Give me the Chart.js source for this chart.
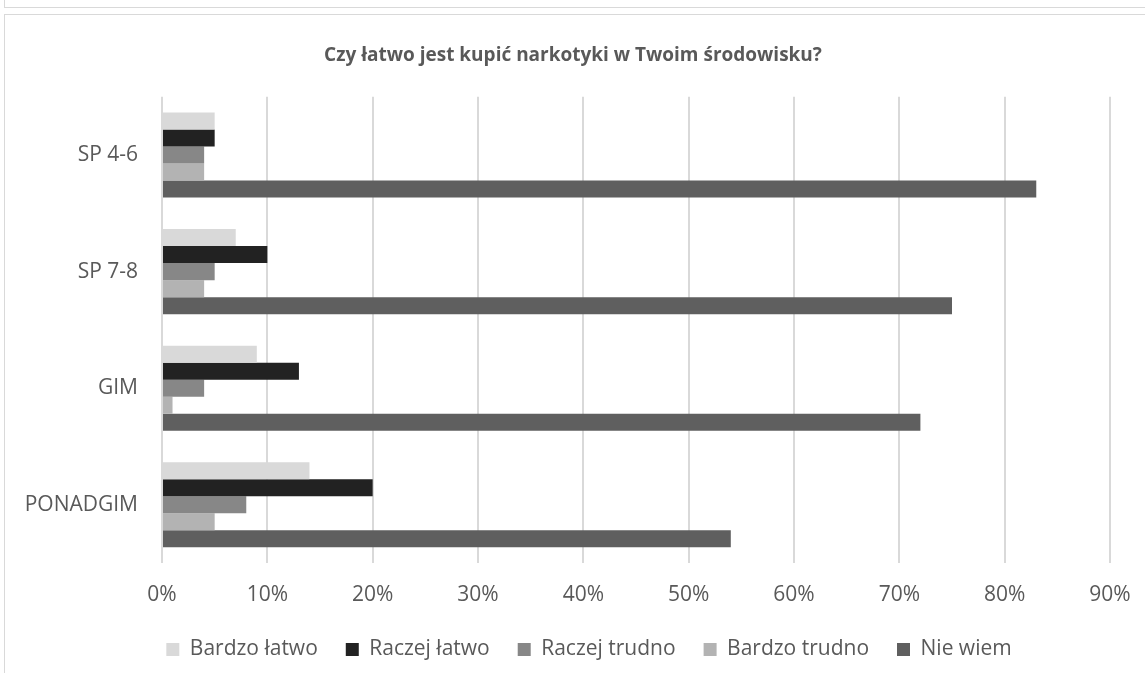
<!DOCTYPE html>
<html lang="pl">
<head>
<meta charset="utf-8">
<title>Czy łatwo jest kupić narkotyki</title>
<script src="https://cdn.jsdelivr.net/npm/chart.js@4"></script>
<style>
  html, body { margin: 0; padding: 0; background: #fff; overflow: hidden; }
  #ramka-gora { position: absolute; left: 4px; top: -10px; width: 1200px; height: 16px; border: 1px solid #d9d9d9; }
  #ramka { position: absolute; left: 4px; top: 14px; width: 1200px; height: 700px; border: 1px solid #d9d9d9; }
  #pudelko { position: absolute; left: 0; top: 0; width: 1180px; height: 673px; }
</style>
</head>
<body>
<div id="ramka-gora"></div>
<div id="ramka"></div>
<div id="pudelko"><canvas id="grafica"></canvas></div>
<script>
const $grafica = document.querySelector("#grafica");

const etiquetas = ['SP 4-6', 'SP 7-8', 'GIM', 'PONADGIM'];

// wartości w procentach
const bardzoLatwo  = [5, 7, 9, 14];
const raczejLatwo  = [5, 10, 13, 20];
const raczejTrudno = [4, 5, 4, 8];
const bardzoTrudno = [4, 4, 1, 5];
const nieWiem      = [83, 75, 72, 54];

const tytul = 'Czy łatwo jest kupić narkotyki w Twoim środowisku?';
const szary = '#595959';
const krojPisma = "'Open Sans', sans-serif";

function serie(label, data, kolor) {
    return {
        label: label,
        data: data,
        backgroundColor: kolor,
        borderWidth: 0,
        categoryPercentage: 0.73,
        barPercentage: 1.0,
    };
}

// tytuł i legenda w oryginale są trochę przesunięte w prawo względem osi
const przesuniecie = {
    id: 'przesuniecie',
    afterLayout(chart) {
        chart.legend.left += 24;
        chart.legend.right += 24;
        chart.titleBlock.left += 8;
        chart.titleBlock.right += 8;
    }
};

new Chart($grafica, {
    type: 'bar',
    data: {
        labels: etiquetas,
        datasets: [
            serie('Bardzo łatwo', bardzoLatwo, '#d9d9d9'),
            serie('Raczej łatwo', raczejLatwo, '#222222'),
            serie('Raczej trudno', raczejTrudno, '#878787'),
            serie('Bardzo trudno', bardzoTrudno, '#b3b3b3'),
            serie('Nie wiem', nieWiem, '#5f5f5f'),
        ],
    },
    plugins: [przesuniecie],
    options: {
        indexAxis: 'y',
        responsive: true,
        maintainAspectRatio: false,
        animation: false,
        layout: {
            padding: { left: 20, right: 70, top: 0, bottom: 3 }
        },
        plugins: {
            title: {
                display: true,
                text: tytul,
                color: szary,
                font: { family: krojPisma, size: 19, weight: 'bold' },
                padding: { top: 44, bottom: 30 }
            },
            legend: {
                position: 'bottom',
                labels: {
                    color: szary,
                    font: { family: krojPisma, size: 21 },
                    boxWidth: 13,
                    boxHeight: 13,
                    padding: 28
                }
            },
            tooltip: { enabled: false }
        },
        scales: {
            x: {
                min: 0,
                max: 90,
                afterFit: (skala) => { skala.height = 48; },
                ticks: {
                    stepSize: 10,
                    color: szary,
                    font: { family: krojPisma, size: 21 },
                    padding: 19,
                    callback: (v) => v + '%'
                },
                grid: { color: '#d9d9d9', lineWidth: 2, drawTicks: false },
                border: { display: false }
            },
            y: {
                afterFit: (skala) => { skala.width = 142; },
                ticks: {
                    color: szary,
                    font: { family: krojPisma, size: 21 },
                    padding: 24
                },
                grid: { display: false, drawTicks: false },
                border: { display: false }
            }
        }
    }
});
</script>
</body>
</html>
